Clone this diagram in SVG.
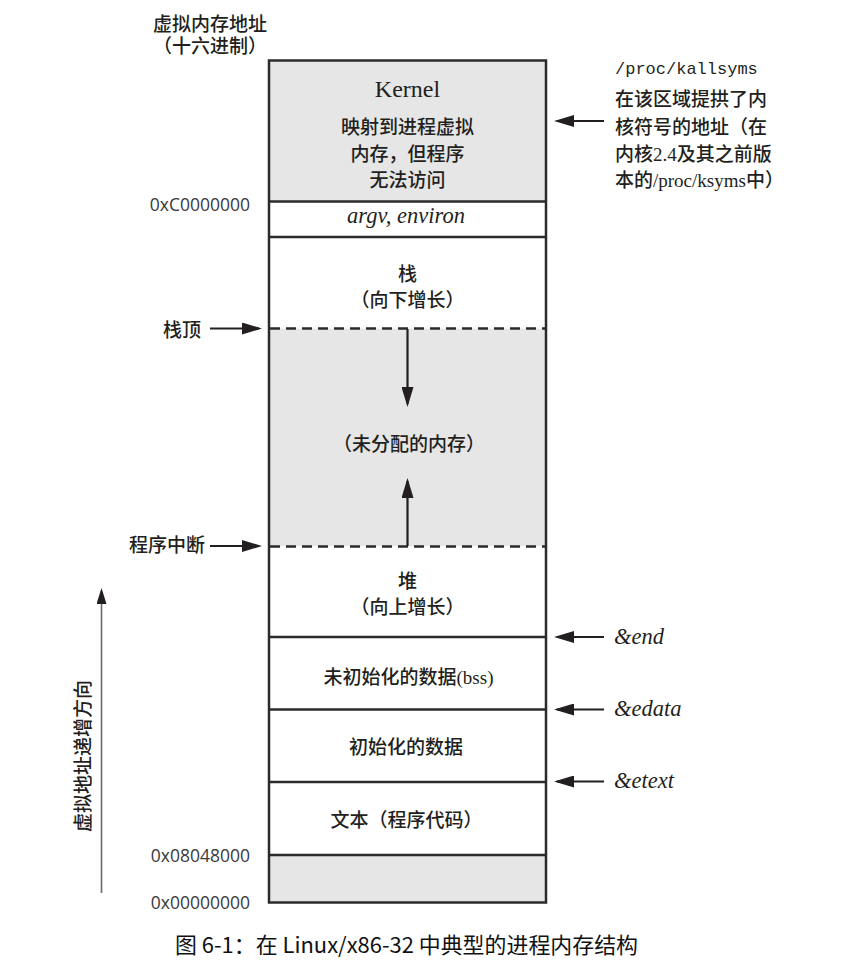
<svg xmlns="http://www.w3.org/2000/svg" width="854" height="967" viewBox="0 0 854 967">
<style>
.bg{fill:#ffffff}
.grey{fill:#e6e6e6}
.cn{font-family:"Liberation Serif","Noto Sans CJK SC",serif;font-size:19px;font-weight:500;fill:#231f20;dominant-baseline:central}
.mid{text-anchor:middle}
.hex{font-family:"Open Sans","Liberation Sans",sans-serif;font-size:17.5px;fill:#3a3a3a;text-anchor:end;dominant-baseline:central}
.it{font-family:"Liberation Serif",serif;font-style:italic;font-size:22.5px;fill:#231f20}
.frame{fill:none;stroke:#2b2b2b;stroke-width:2.5}
.div{stroke:#2b2b2b;stroke-width:2.5}
.dash{stroke:#2b2b2b;stroke-width:2.5;stroke-dasharray:10 6}
.arr{stroke:#231f20;stroke-width:2.2;fill:none}
.garr{stroke:#6a6a6a;stroke-width:1.6;fill:none}
</style>
<defs>
<marker id="ah" markerWidth="20" markerHeight="12" refX="17" refY="6" orient="auto" markerUnits="userSpaceOnUse"><path d="M0,0 L20,6 L0,12 Z" fill="#231f20"/></marker>
<marker id="gh" markerWidth="16" markerHeight="10" refX="13" refY="5" orient="auto" markerUnits="userSpaceOnUse"><path d="M0,0 L16,5 L0,10 Z" fill="#231f20"/></marker>
</defs>

<g id="title">
<text class="cn mid" x="210" y="24.5">虚拟内存地址</text>
<text class="cn mid" x="210" y="46">（十六进制）</text>
</g>

<g id="kernel">
<rect class="grey" x="269" y="60.5" width="277" height="141"/>
<text x="407.5" y="97" font-family="Liberation Serif,serif" font-size="24" fill="#231f20" text-anchor="middle">Kernel</text>
<text class="cn mid" x="407.5" y="127.5">映射到进程虚拟</text>
<text class="cn mid" x="407.5" y="154">内存，但程序</text>
<text class="cn mid" x="407.5" y="180.5">无法访问</text>
</g>

<g id="argv">
<rect class="bg" x="269" y="201.5" width="277" height="35.5"/>
<text class="it" x="406" y="223" text-anchor="middle">argv, environ</text>
</g>

<g id="stack">
<rect class="bg" x="269" y="237" width="277" height="91.5"/>
<text class="cn mid" x="407.5" y="274.5">栈</text>
<text class="cn mid" x="407.5" y="300.5">（向下增长）</text>
</g>

<g id="unallocated">
<rect class="grey" x="269" y="328.5" width="277" height="218"/>
<text class="cn mid" x="409" y="444.5">（未分配的内存）</text>
</g>

<g id="heap">
<rect class="bg" x="269" y="546.5" width="277" height="90.5"/>
<text class="cn mid" x="407.5" y="581">堆</text>
<text class="cn mid" x="407.5" y="607">（向上增长）</text>
</g>

<g id="bss">
<rect class="bg" x="269" y="637" width="277" height="72.5"/>
<text class="cn mid" x="408.5" y="677.5">未初始化的数据(bss)</text>
</g>

<g id="data">
<rect class="bg" x="269" y="709.5" width="277" height="72.5"/>
<text class="cn mid" x="406" y="747.5">初始化的数据</text>
</g>

<g id="text-seg">
<rect class="bg" x="269" y="782" width="277" height="73"/>
<text class="cn mid" x="406.5" y="820.5">文本（程序代码）</text>
</g>

<g id="reserved">
<rect class="grey" x="269" y="855" width="277" height="47.5"/>
</g>

<g id="frame">
<rect class="frame" x="269" y="60.5" width="277" height="842"/>
<line class="div" x1="269" y1="201.5" x2="546" y2="201.5"/>
<line class="div" x1="269" y1="237" x2="546" y2="237"/>
<line class="dash" x1="270" y1="328.5" x2="546" y2="328.5"/>
<line class="dash" x1="270" y1="546.5" x2="546" y2="546.5"/>
<line class="div" x1="269" y1="637" x2="546" y2="637"/>
<line class="div" x1="269" y1="709.5" x2="546" y2="709.5"/>
<line class="div" x1="269" y1="782" x2="546" y2="782"/>
<line class="div" x1="269" y1="855" x2="546" y2="855"/>
</g>

<g id="addresses">
<text class="hex" x="250" y="203.5">0xC0000000</text>
<text class="hex" x="250" y="855">0x08048000</text>
<text class="hex" x="250" y="901.5">0x00000000</text>
</g>

<g id="left-labels">
<text class="cn" x="201" y="330" text-anchor="end">栈顶</text>
<text class="cn" x="205" y="545.5" text-anchor="end">程序中断</text>
<text class="cn mid" transform="translate(83,756) rotate(-90)" x="0" y="0" font-weight="400">虚拟地址递增方向</text>
</g>

<g id="kallsyms-note">
<text x="615" y="74" font-family="Liberation Mono,monospace" font-size="17" fill="#231f20">/proc/kallsyms</text>
<text class="cn" x="615" y="99.5">在该区域提拱了内</text>
<text class="cn" x="615" y="127.5">核符号的地址（在</text>
<text class="cn" x="615" y="154.5">内核2.4及其之前版</text>
<text class="cn" x="615" y="180.5">本的/proc/ksyms中）</text>
</g>

<g id="symbols">
<text class="it" x="614" y="644">&amp;end</text>
<text class="it" x="614" y="716">&amp;edata</text>
<text class="it" x="614" y="788">&amp;etext</text>
</g>

<g id="connectors">
<line class="arr" x1="604" y1="121" x2="557" y2="121" marker-end="url(#ah)"/>
<line class="arr" x1="604" y1="637" x2="557" y2="637" marker-end="url(#ah)"/>
<line class="arr" x1="604" y1="709.5" x2="557" y2="709.5" marker-end="url(#ah)"/>
<line class="arr" x1="604" y1="781.5" x2="557" y2="781.5" marker-end="url(#ah)"/>
<line class="arr" x1="210" y1="328.5" x2="259" y2="328.5" marker-end="url(#ah)"/>
<line class="arr" x1="210" y1="546" x2="259" y2="546" marker-end="url(#ah)"/>
<line class="arr" x1="407.5" y1="329" x2="407.5" y2="404" marker-end="url(#ah)"/>
<line class="arr" x1="407.5" y1="546" x2="407.5" y2="481" marker-end="url(#ah)"/>
<line class="garr" x1="101.5" y1="893" x2="101.5" y2="591" marker-end="url(#gh)"/>
</g>

<g id="caption">
<text x="175" y="943" font-family="Noto Sans CJK SC,Liberation Sans,sans-serif" font-size="21.5" fill="#111" dominant-baseline="central" textLength="463" lengthAdjust="spacingAndGlyphs">图 6-1：在 Linux/x86-32 中典型的进程内存结构</text>
</g>
</svg>
